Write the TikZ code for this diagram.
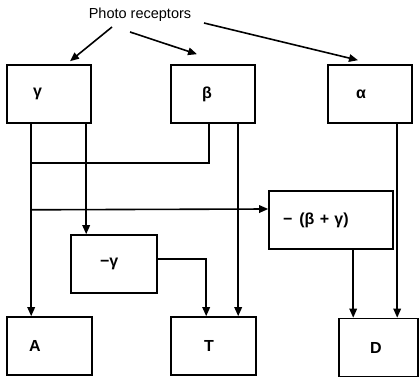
\documentclass[tikz,border=0pt]{standalone}
\usepackage{fontspec}
\setmainfont{Liberation Sans}
\usetikzlibrary{arrows.meta,calc}
\begin{document}
\begin{tikzpicture}[x=1pt,y=-1pt,
  box/.style={draw, line width=1.6pt, minimum height=58pt, inner ysep=0pt,
    align=left, font=\fontsize{16}{18}\selectfont\bfseries},
  ln/.style={line width=1.6pt},
  arr/.style={ln, -{Triangle[length=9pt,width=7.5pt]}}]
\useasboundingbox (0,0) rectangle (420,377);

% caption with the three receptor arrows
\node[font=\fontsize{14.5}{16}\selectfont] (pr) at (140,15) {Photo receptors};

% receptor boxes
\node[box, text width=32pt, inner xsep=26pt] (g) at (49,94) {γ};
\node[box, text width=22pt, inner xsep=31pt] (b) at (213,94) {β};
\node[box, text width=28pt, inner xsep=28pt] (a) at (370,94) {α};

% combining boxes
\node[box, text width=96pt, inner xsep=14pt] (s) at (331,220) {−\hspace{7pt}(β + γ)};
\node[box, text width=28pt, inner xsep=29pt] (n) at (114,264) {−γ};

% output boxes
\node[box, text width=41pt, inner xsep=22pt] (A) at (49.5,346) {A};
\node[box, text width=19pt, inner xsep=33pt] (T) at (213.5,346) {T};
\node[box, text width=17pt, inner xsep=31pt] (D) at (378.5,347.5) {D};

% arrows from the caption
\coordinate (p1) at (112,27);
\coordinate (p2) at (130,32);
\coordinate (p3) at (204,23);
\draw[arr] (p1) -- ([shift={(21,-3)}]g.north);
\draw[arr] (p2) -- ([shift={(-16,-10)}]b.north);
\draw[arr] (p3) -- ([shift={(-12,-4)}]a.north);

% gamma channel
\draw[arr] ([shift={(25,0)}]g.south west) -- ([shift={(25,0)}]A.north west);
\draw[arr] ([shift={(80,0)}]g.south west) -- ([shift={(16,0)}]n.north west);

% beta joins the gamma line
\draw[ln] ([shift={(39,0)}]b.south west) |- ([shift={(25,39)}]g.south west);

% gamma line feeds the sum box
\draw[arr] ([shift={(25,86)}]g.south west) -- ([shift={(0,-11)}]s.west);

% into T
\draw[arr] ([shift={(68,0)}]b.south west) -- ([shift={(68,0)}]T.north west);
\draw[arr] ([shift={(0,-5)}]n.east) -| ([shift={(36,0)}]T.north west);

% into D
\draw[arr] ([shift={(85,0)}]s.south west) -- ([shift={(15,0)}]D.north west);
\draw[arr] ([shift={(70,0)}]a.south west) -- ([shift={(59,0)}]D.north west);
\end{tikzpicture}
\end{document}
